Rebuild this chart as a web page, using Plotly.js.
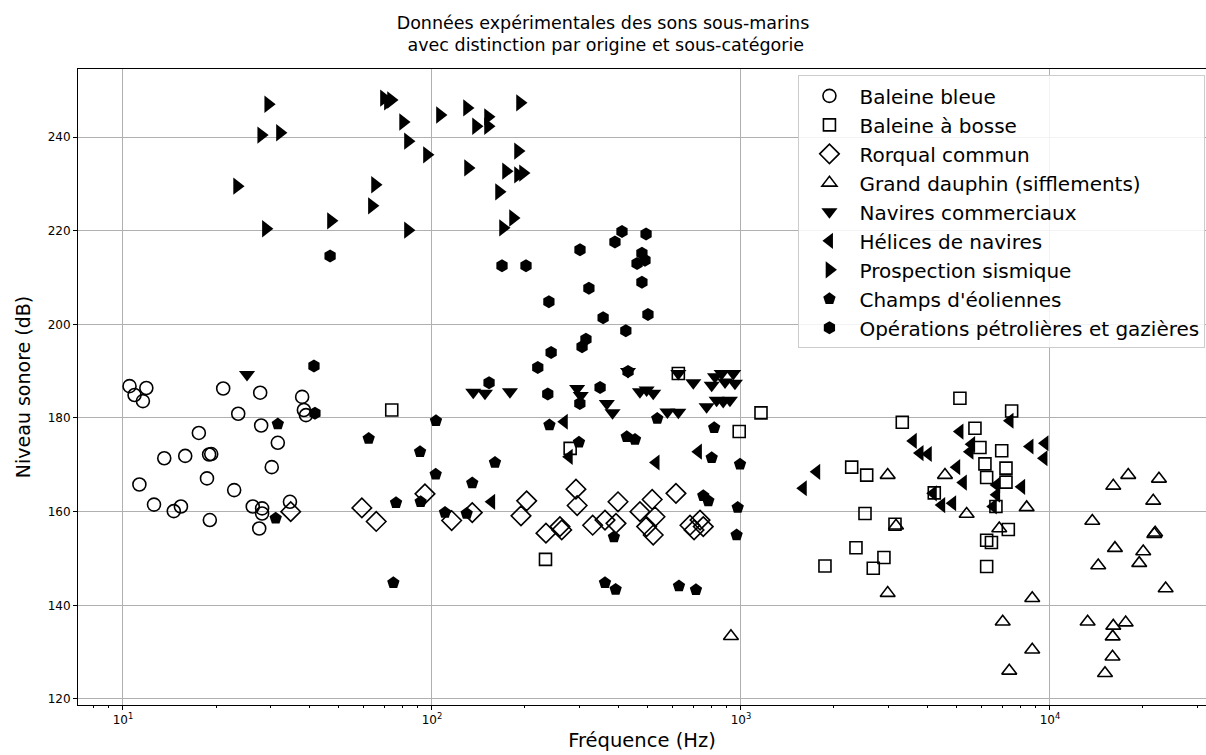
<!DOCTYPE html>
<html>
<head>
<meta charset="utf-8">
<script src="https://cdn.plot.ly/plotly-3.0.1.min.js"></script>
<style>html,body{margin:0;padding:0;background:#fff;}#chart{width:1206px;height:755px;}</style>
</head>
<body>
<div id="chart"></div>
<script>
// ---- Data ----
const seriesNames = ["Baleine bleue", "Baleine à bosse", "Rorqual commun", "Grand dauphin (sifflements)",
  "Navires commerciaux", "Hélices de navires", "Prospection sismique", "Champs d'éoliennes",
  "Opérations pétrolières et gazières"];

const baleineBleueFreq = [10.5,11.9,10.9,11.6,21.1,27.8,38.0,23.6,28.0,38.5,39.1,17.6,31.7,13.6,15.9,19.0,19.3,30.3,18.7,11.3,22.9,12.6,14.6,15.4,26.3,28.2,28.2,34.7,19.1,27.6];
const baleineBleueDb   = [186.8,186.4,184.9,183.6,186.3,185.4,184.5,180.9,178.4,181.7,180.6,176.8,174.7,171.4,171.9,172.2,172.3,169.5,167.1,165.8,164.6,161.5,160.1,161.1,161.1,160.7,159.6,162.1,158.2,156.4];

const baleineBosseFreq = [74.1,233,280,627,1161,987,5112,7516,3327,5718,5935,6980,6160,7206,6239,7206,2282,2552,4223,6686,2520,3151,7332,6239,6465,2356,2902,2680,1870,6239];
const baleineBosseDb   = [181.7,149.8,173.5,189.5,181.1,177.1,184.2,181.5,179.1,177.8,173.7,173.0,170.2,169.3,167.3,166.3,169.5,167.8,164.0,161.1,159.6,157.3,156.2,153.9,153.4,152.3,150.2,147.9,148.4,148.3];

const rorqualFreq = [34.9,59.3,66.0,94.9,115.8,135.0,202.5,194.1,233.8,259.5,263,292.4,295,331.2,400,363,394,471,516,527,495,520,616,684,705,737,755];
const rorqualDb   = [160.0,160.8,157.9,163.8,158.1,159.8,162.3,159.1,155.4,156.8,156.1,164.8,161.3,157.1,162.1,158.2,157.5,160.0,162.6,158.9,156.8,155.0,163.9,157.1,156.1,158.2,156.8];

const dauphinFreq = [928,2984,4573,5375,3175,6853,8406,2984,7032,8763,8763,7384,17920,16030,22530,21590,13710,21760,21900,16230,20040,14330,19450,23680,13240,16030,17580,15960,15940,15070];
const dauphinDb   = [133.4,167.8,167.8,159.5,157.0,156.4,160.9,142.6,136.5,141.5,130.5,126.0,167.8,165.5,167.0,162.3,158.0,155.2,155.5,152.2,151.5,148.5,149.0,143.6,136.5,135.6,136.3,133.3,129.0,125.5];

const naviresFreq = [25.2,136.0,148.4,178.8,295,303,368,384,431,471,495,520,578,627,627,701,804,824,866,888,944,956,774,834,876,921];
const naviresDb   = [189.3,185.5,185.3,185.6,186.3,184.8,183.1,181.1,189.9,185.6,186.0,185.3,181.3,181.2,189.5,187.5,187.0,188.8,189.5,187.7,189.5,187.4,182.4,183.8,183.5,183.8];

const helicesFreq = [156,268,278,531,728,1591,1758,3610,3796,4038,5112,5579,5508,4991,5243,4191,4462,4842,7423,6720,6720,8098,6553,8615,9634,9563];
const helicesDb   = [162.1,179.2,171.7,170.5,172.8,165.0,168.5,175.1,172.5,172.3,177.1,174.4,172.8,169.5,166.2,163.9,161.4,161.8,179.4,165.7,163.6,165.3,161.1,173.9,174.6,171.4];

const sismiqueFreq = [29.5,28.0,32.2,23.4,65.4,63.9,47.1,29.0,69.9,72.0,73.7,80.6,83.6,96.3,106.1,129.8,151.8,138.8,151.8,192.7,189.8,130.8,173.6,189.8,197.0,164.8,182.9,169.8,83.6];
const sismiqueDb   = [247.0,240.4,240.9,229.5,229.8,225.3,222.1,220.4,248.3,247.5,247.9,243.2,239.1,236.2,244.7,246.2,244.3,242.3,242.3,247.3,237.0,233.4,232.7,231.9,232.3,228.3,222.7,220.6,220.1];

const eoliennesFreq = [31.7,31.2,62.4,103.0,91.5,102.8,159.9,135.0,76.5,91.9,110.2,129.5,75.0,240,299,388,363,393,427,454,536,819,804,993,755,784,976,968,630,715];
const eoliennesDb   = [178.7,158.6,175.6,179.4,172.8,168.0,170.5,166.1,161.9,162.1,159.8,159.6,144.8,178.5,174.8,154.6,144.8,143.4,176.0,175.4,179.9,177.9,171.5,170.1,163.4,162.3,160.9,155.0,144.1,143.3];

const petroleFreq = [46.8,41.5,41.8,168.5,201.5,301.3,391,412,493,478,489,461,478,322,239,358,500,424,315,306,243,220,153,237,350,431,301];
const petroleDb   = [214.6,191.1,181.0,212.5,212.5,215.9,217.6,219.8,219.3,215.2,213.7,213.0,209.0,207.7,204.8,201.4,202.1,198.6,196.8,195.2,194.0,190.8,187.5,185.1,186.5,189.9,183.1];

const xTickVals = [10, 100, 1000, 10000];
const xTickText = ["10<sup>1</sup>", "10<sup>2</sup>", "10<sup>3</sup>", "10<sup>4</sup>"];
const xMinorTicks = [8,9,20,30,40,50,60,70,80,90,200,300,400,500,600,700,800,900,2000,3000,4000,5000,6000,7000,8000,9000,20000,30000];

// ---- Traces ----
const FONT = "DejaVu Sans, Liberation Sans, sans-serif";
function mk(name, x, y, symbol, size, open) {
  return {
    type: "scatter", mode: "markers", name: name, x: x, y: y,
    legendgroup: name,
    marker: open
      ? {symbol: symbol, size: size, color: "black", line: {color: "black", width: 1.6}}
      : {symbol: symbol, size: size, color: "black", line: {width: 0}},
    hoverinfo: "x+y+name"
  };
}
const traces = [
  mk(seriesNames[0], baleineBleueFreq, baleineBleueDb, "circle-open", 13, true),
  mk(seriesNames[1], baleineBosseFreq, baleineBosseDb, "square-open", 12, true),
  mk(seriesNames[2], rorqualFreq, rorqualDb, "diamond-open", 15, true),
  mk(seriesNames[3], dauphinFreq, dauphinDb, "triangle-up-open", 13, true),
  mk(seriesNames[4], naviresFreq, naviresDb, "triangle-down", 14, false),
  mk(seriesNames[5], helicesFreq, helicesDb, "triangle-left", 14, false),
  mk(seriesNames[6], sismiqueFreq, sismiqueDb, "triangle-right", 15, false),
  mk(seriesNames[7], eoliennesFreq, eoliennesDb, "pentagon", 13, false),
  mk(seriesNames[8], petroleFreq, petroleDb, "hexagon", 13, false)
];

const layout = {
  width: 1206, height: 755,
  paper_bgcolor: "white", plot_bgcolor: "white",
  font: {family: FONT, color: "black", size: 12},
  margin: {l: 78, r: 0, t: 69, b: 50, pad: 0},
  title: {
    text: "Données expérimentales des sons sous-marins<br> avec distinction par origine et sous-catégorie",
    font: {family: FONT, size: 17.5, color: "black"},
    x: 0.5, xref: "container", xanchor: "center",
    y: 0.962, yref: "container", yanchor: "top"
  },
  xaxis: {
    type: "log",
    range: [0.8544, 4.505],
    tickmode: "array", tickvals: xTickVals, ticktext: xTickText,
    ticks: "outside", ticklen: 4, tickwidth: 1, tickcolor: "black",
    tickfont: {family: FONT, size: 12, color: "black"},
    showgrid: true, gridcolor: "#b0b0b0", gridwidth: 0.8,
    showline: true, linecolor: "black", linewidth: 1, mirror: true,
    zeroline: false,
    minor: {tickmode: "array", tickvals: xMinorTicks, ticks: "outside", ticklen: 2, tickcolor: "black", showgrid: false},
    title: {text: "Fréquence (Hz)", font: {family: FONT, size: 19.5, color: "black"}, standoff: 6}
  },
  yaxis: {
    range: [118.71, 254.52],
    tickmode: "linear", tick0: 120, dtick: 20,
    ticks: "outside", ticklen: 4, tickwidth: 1, tickcolor: "black",
    tickfont: {family: FONT, size: 12, color: "black"},
    showgrid: true, gridcolor: "#b0b0b0", gridwidth: 0.8,
    showline: true, linecolor: "black", linewidth: 1, mirror: false,
    zeroline: false,
    title: {text: "Niveau sonore (dB)", font: {family: FONT, size: 19, color: "black"}, standoff: 12}
  },
  legend: {
    x: 0.9995, xanchor: "right", xref: "paper",
    y: 0.99, yanchor: "top", yref: "paper",
    bgcolor: "rgba(255,255,255,0.85)", bordercolor: "#cccccc", borderwidth: 1,
    font: {family: FONT, size: 20, color: "black"},
    tracegroupgap: 0, itemwidth: 50
  },
  showlegend: true
};

Plotly.newPlot("chart", traces, layout, {displayModeBar: false, responsive: false});
</script>
</body>
</html>
